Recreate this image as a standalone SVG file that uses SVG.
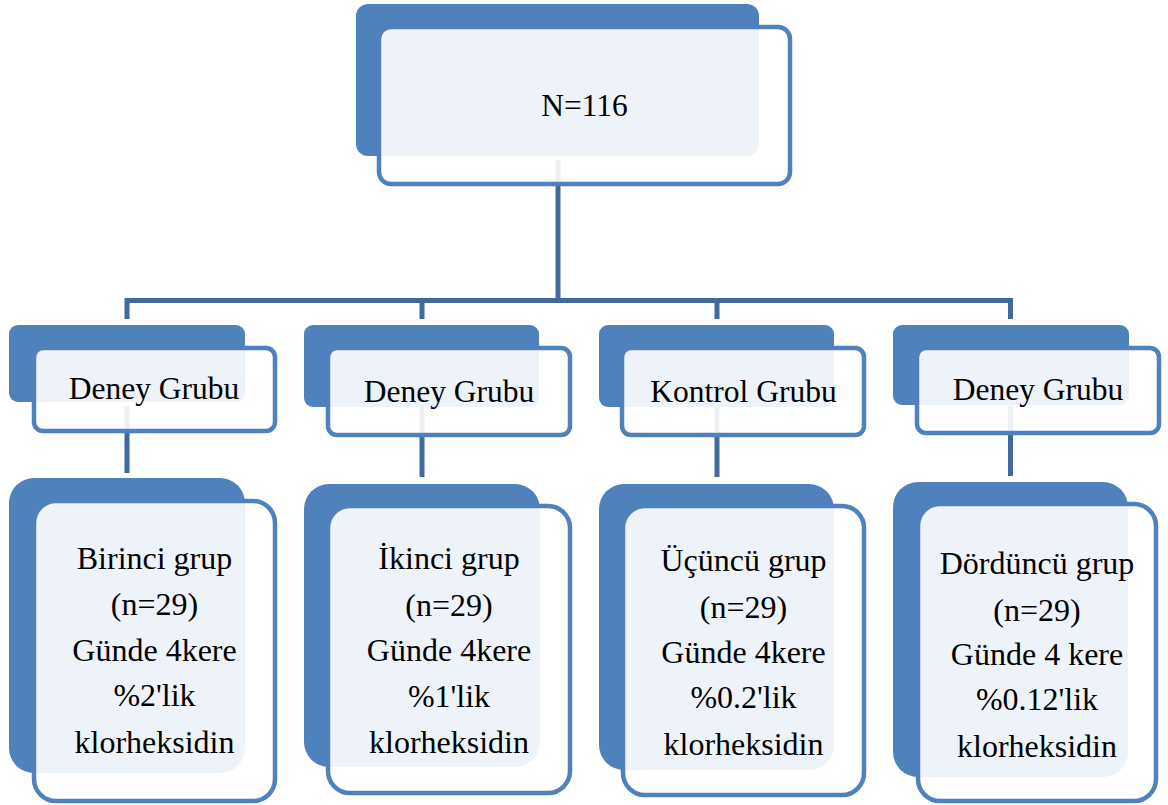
<svg xmlns="http://www.w3.org/2000/svg" width="1168" height="805" viewBox="0 0 1168 805">
<style>
.back{fill:#4F81BD;}
.front{fill:#FFFFFF;fill-opacity:0.9;stroke:#4F81BD;stroke-width:4.5;}
.conn{fill:none;stroke:#40699C;stroke-width:5;stroke-linejoin:miter;}
text{font-family:"Liberation Serif","Times New Roman",serif;font-size:32px;fill:#000;text-anchor:middle;}
</style>
<rect width="1168" height="805" fill="#FFFFFF"/>
<g id="connectors">
<path class="conn" d="M558,160 V300.5"/>
<path class="conn" d="M127,319 V300.5 H1010.5 V319"/>
<path class="conn" d="M422,300.5 V319"/>
<path class="conn" d="M717,300.5 V319"/>
<path class="conn" d="M127,406 V473"/>
<path class="conn" d="M422,406 V477"/>
<path class="conn" d="M717,406 V477"/>
<path class="conn" d="M1010.5,406 V476"/>
</g>
<g id="node-top">
<rect class="back" x="356" y="4" width="403" height="152" rx="12"/>
<rect class="front" x="379" y="27" width="411" height="157" rx="12"/>
<text x="584.5" y="116" style="font-size:31.5px">N=116</text>
</g>
<g id="node-mid1">
<rect class="back" x="9" y="325" width="236" height="77" rx="9"/>
<rect class="front" x="34" y="348" width="241" height="83" rx="9"/>
<text x="154" y="399" style="font-size:31.5px">Deney Grubu</text>
</g>
<g id="node-mid2">
<rect class="back" x="304" y="325" width="235" height="82" rx="9"/>
<rect class="front" x="328" y="348" width="242" height="87" rx="9"/>
<text x="449" y="402" style="font-size:31.5px">Deney Grubu</text>
</g>
<g id="node-mid3">
<rect class="back" x="599" y="325" width="235" height="82" rx="9"/>
<rect class="front" x="622" y="348" width="242" height="87" rx="9"/>
<text x="743.5" y="402" style="font-size:31.5px">Kontrol Grubu</text>
</g>
<g id="node-mid4">
<rect class="back" x="893" y="325" width="236" height="80" rx="9"/>
<rect class="front" x="917" y="348" width="242" height="85" rx="9"/>
<text x="1038" y="400" style="font-size:31.5px">Deney Grubu</text>
</g>
<g id="node-bottom1">
<rect class="back" x="9" y="478" width="236" height="295" rx="25"/>
<rect class="front" x="34" y="501" width="241" height="300" rx="22"/>
<text x="154.5" y="569">Birinci grup</text>
<text x="154.5" y="615">(n=29)</text>
<text x="154.5" y="661">Günde 4kere</text>
<text x="154.5" y="706">%2'lik</text>
<text x="154.5" y="753">klorheksidin</text>
</g>
<g id="node-bottom2">
<rect class="back" x="304" y="484" width="236" height="283" rx="25"/>
<rect class="front" x="328" y="506" width="242" height="287" rx="22"/>
<text x="449" y="569">İkinci grup</text>
<text x="449" y="616">(n=29)</text>
<text x="449" y="661">Günde 4kere</text>
<text x="449" y="707">%1'lik</text>
<text x="449" y="753">klorheksidin</text>
</g>
<g id="node-bottom3">
<rect class="back" x="599" y="484" width="235" height="286" rx="25"/>
<rect class="front" x="623" y="506" width="241" height="289" rx="22"/>
<text x="743.5" y="571">Üçüncü grup</text>
<text x="743.5" y="618">(n=29)</text>
<text x="743.5" y="663">Günde 4kere</text>
<text x="743.5" y="708">%0.2'lik</text>
<text x="743.5" y="755">klorheksidin</text>
</g>
<g id="node-bottom4">
<rect class="back" x="893" y="482" width="235" height="295" rx="25"/>
<rect class="front" x="918" y="504" width="238" height="297" rx="22"/>
<text x="1037" y="574">Dördüncü grup</text>
<text x="1037" y="621">(n=29)</text>
<text x="1037" y="665">Günde 4 kere</text>
<text x="1037" y="710">%0.12'lik</text>
<text x="1037" y="757">klorheksidin</text>
</g>
</svg>
